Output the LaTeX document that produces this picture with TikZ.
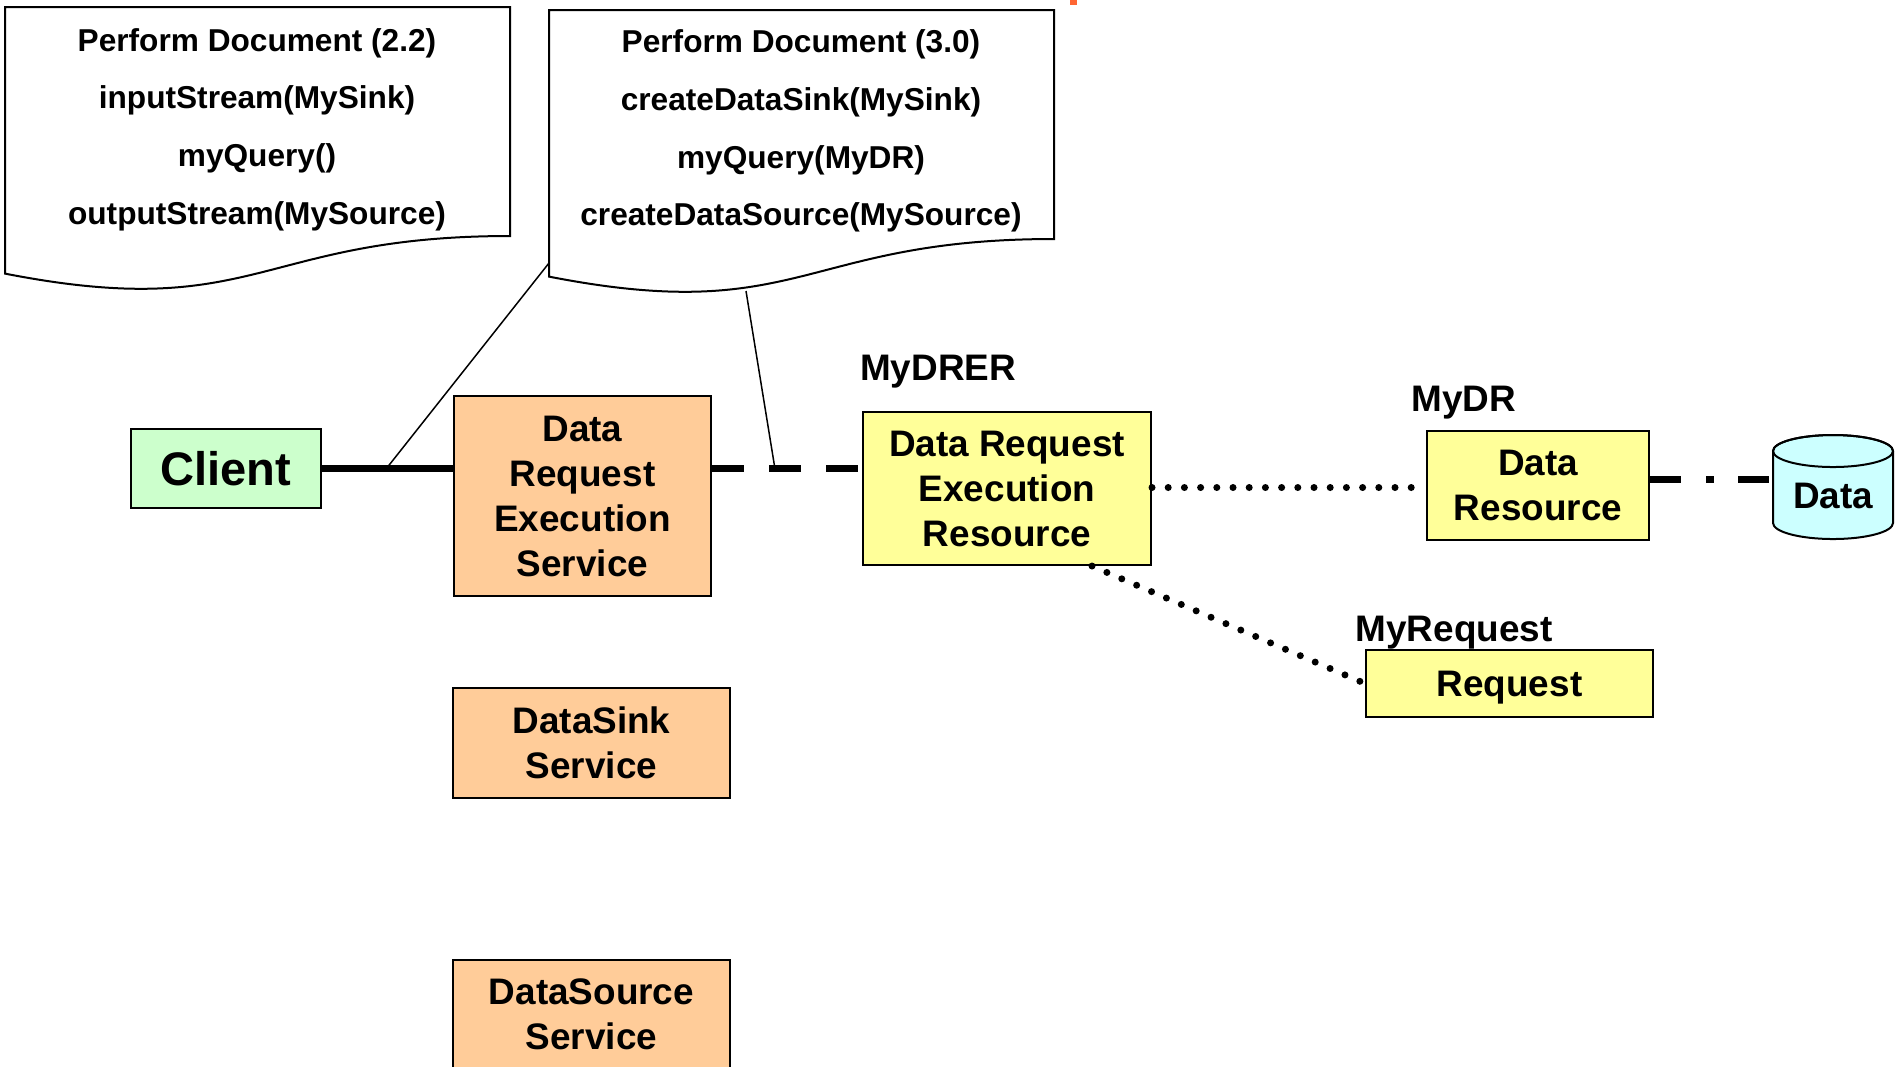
\documentclass[tikz,border=0pt]{standalone}
\usepackage{fontspec}
\setmainfont{Liberation Sans}
\definecolor{clientgreen}{HTML}{CCFFCC}
\definecolor{servorange}{HTML}{FFCC99}
\definecolor{resyellow}{HTML}{FFFF99}
\definecolor{datacyan}{HTML}{CCFFFF}
\definecolor{markorange}{HTML}{FF6633}
\newcommand{\docoutline}{(0,0) -- (505,0) -- (505,229) .. controls (252.5,229) and (252.5,316) .. (0,266.6) -- cycle}
\begin{document}
\begin{tikzpicture}[x=0.1mm, y=-0.1mm,
    box/.style={draw, line width=0.2mm, align=center, inner sep=0pt,
      font=\fontsize{10.5}{12.8}\selectfont\bfseries},
    lbl/.style={inner sep=0pt, font=\fontsize{10.5}{12.8}\selectfont\bfseries},
    doctext/.style={align=center, inner sep=0pt,
      font=\fontsize{9}{16.4}\selectfont\bfseries},
    thickline/.style={line width=0.7mm},
    dashline/.style={line width=0.7mm, dash pattern=on 3.2mm off 2.5mm},
    dotline/.style={line width=0.7mm, line cap=round, dash pattern=on 0pt off 1.62mm},
    dashdotline/.style={line width=0.7mm, dash pattern=on 3.1mm off 2.5mm on 0.8mm off 2.4mm},
    callout/.style={line width=0.15mm}]
  \path[use as bounding box, clip] (0,0) rectangle (1895,1066);
  \fill[markorange] (1070,0) rectangle (1077,5);
  % documents
  \draw[line width=0.2mm, shift={(5,7)}] \docoutline;
  \draw[line width=0.2mm, shift={(549,10)}] \docoutline;
  \node[doctext] (doc1) at (257,129.5)
    {Perform Document (2.2)\\inputStream(MySink)\\myQuery()\\outputStream(MySource)};
  \node[doctext] (doc2) at (801,131)
    {Perform Document (3.0)\\createDataSink(MySink)\\myQuery(MyDR)\\createDataSource(MySource)};
  % boxes
  \node[box, fill=clientgreen, minimum width=19mm, minimum height=7.9mm,
    font=\fontsize{13.4}{16}\selectfont\bfseries] (client) at (226,468.5) {Client};
  \node[box, fill=servorange, minimum width=25.7mm, minimum height=20mm] (dres) at (582.5,496)
    {Data\\Request\\Execution\\Service};
  \node[box, fill=servorange, minimum width=27.7mm, minimum height=11mm] (sink) at (591.5,742.5)
    {DataSink\\Service};
  \node[box, fill=servorange, minimum width=27.7mm, minimum height=11mm] (source) at (591.5,1014.5)
    {DataSource\\Service};
  \node[box, fill=resyellow, minimum width=28.8mm, minimum height=15.3mm] (drer) at (1007,488.5)
    {Data Request\\Execution\\Resource};
  \node[box, fill=resyellow, minimum width=22.2mm, minimum height=10.9mm] (dr) at (1538,485.5)
    {Data\\Resource};
  \node[box, fill=resyellow, minimum width=28.7mm, minimum height=6.7mm, text depth=0pt] (req) at (1509.5,683.5)
    {Request};
  % cylinder
  \filldraw[fill=datacyan, line width=0.2mm] (1773,451) -- (1773,523)
    arc[start angle=180, end angle=0, x radius=60, y radius=16] -- (1893,451)
    arc[start angle=0, end angle=-180, x radius=60, y radius=16] -- cycle;
  \draw[line width=0.2mm] (1833,451) ellipse[x radius=60, y radius=16];
  \node[lbl, minimum width=12mm, minimum height=10.4mm] (data) at (1833,496) {Data};
  % labels
  \node[lbl] (drerlbl) at (938,372) {MyDRER};
  \node[lbl] (drlbl) at (1464,403) {MyDR};
  \node[lbl] (reqlbl) at (1454,633) {MyRequest};
  % connectors
  \draw[thickline] (client.east) -- (dres.west |- client.east);
  \draw[dashline] (dres.east |- client.east) -- (drer.west |- client.east);
  \draw[dotline, shorten >=1.1mm] ([yshift=0.1mm]drer.east) -- ([yshift=0.1mm]dr.west |- drer.east);
  \draw[dotline] ([xshift=-6mm]drer.south east) -- (req.west);
  \draw[dashdotline] ([yshift=0.6mm]dr.east) -- ([yshift=0.6mm]data.west |- dr.east);
  \coordinate (calloutA) at (549,263);
  \coordinate (tapA) at (386,469);
  \coordinate (calloutB) at (746,291);
  \coordinate (tapB) at (775,469);
  \draw[callout] (calloutA) -- (tapA);
  \draw[callout] (calloutB) -- (tapB);
\end{tikzpicture}
\end{document}
